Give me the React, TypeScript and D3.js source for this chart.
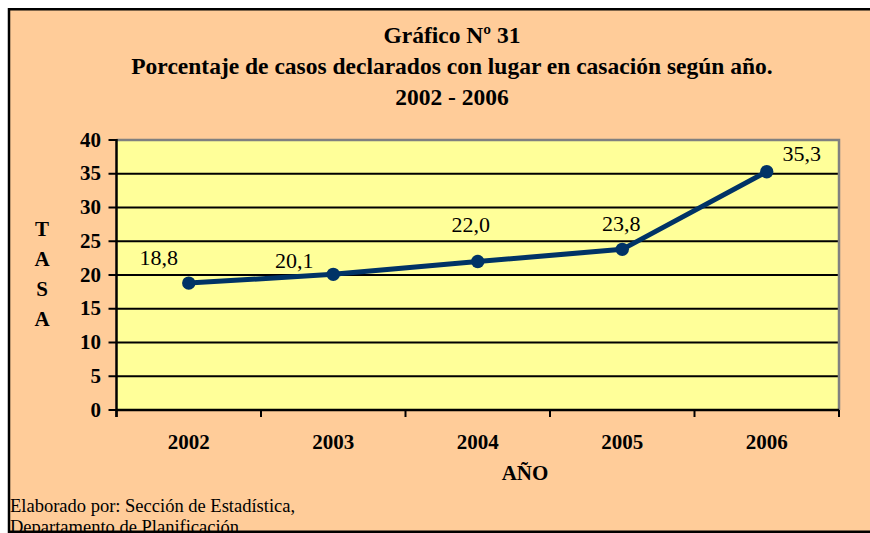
import React from 'react';
import * as d3 from 'd3';

// Data
const years = ['2002', '2003', '2004', '2005', '2006'];
const rates = [18.8, 20.1, 22.0, 23.8, 35.3];
const yTicks = [0, 5, 10, 15, 20, 25, 30, 35, 40];
const titleLines = [
  'Gráfico Nº 31',
  'Porcentaje de casos declarados con lugar en casación según año.',
  '2002 - 2006',
];
const yAxisLetters = ['T', 'A', 'S', 'A'];
const footerLines = ['Elaborado por: Sección de Estadística,', 'Departamento de Planificación'];

// hand-placed label nudges (dx, dy from the point), like the original
const labelNudge = [[-30, -18], [-39, -6], [-7, -30], [-1, -18], [35, -11]];

const W = 870;
const H = 533;
const plot = { left: 116.5, right: 839, top: 140, bottom: 410 };
const FONT = '"Liberation Serif", "Times New Roman", serif';

const esLocale = d3.formatLocale({ decimal: ',', thousands: '.', grouping: [3], currency: ['', ''] });
const fmt = esLocale.format('.1f');

const App = () => {
  const x = d3.scaleBand().domain(years).range([plot.left, plot.right]).padding(0);
  const y = d3.scaleLinear().domain([0, 40]).range([plot.bottom, plot.top]);

  const line = d3.line<number>()
    .x((d, i) => x(years[i])! + x.bandwidth() / 2)
    .y(d => y(d));

  const bandEdges = years.map(yr => x(yr)!).concat([plot.right]);

  return (
    <svg width={W} height={H} style={{ position: 'absolute', left: 0, top: 0, fontFamily: FONT }}>
      <rect x={0} y={0} width={W} height={H} fill="#ffffff" />
      {/* outer frame fill */}
      <rect x={9} y={9.25} width={900} height={522.5} fill="#FFCC99" />

      {/* title */}
      {titleLines.map((t, i) => (
        <text key={i} x={452} y={43 + i * 31} textAnchor="middle" fontSize={23.5} fontWeight="bold">{t}</text>
      ))}

      {/* plot area */}
      <rect x={plot.left} y={plot.top} width={plot.right - plot.left} height={plot.bottom - plot.top} fill="#FFFF99" />

      {/* gridlines */}
      {yTicks.filter(t => t > 0 && t < 40).map(t => (
        <line key={t} x1={plot.left} x2={plot.right} y1={y(t)} y2={y(t)} stroke="#000" strokeWidth={2} />
      ))}
      {/* gray border top/right */}
      <path d={`M${plot.left},${plot.top}H${plot.right}V${plot.bottom}`} fill="none" stroke="#808080" strokeWidth={2.5} />

      {/* y axis */}
      <line x1={plot.left} x2={plot.left} y1={plot.top - 1} y2={plot.bottom + 7} stroke="#000" strokeWidth={2.5} />
      {yTicks.map(t => (
        <g key={t}>
          <line x1={plot.left - 8} x2={plot.left} y1={y(t)} y2={y(t)} stroke="#000" strokeWidth={2} />
          <text x={101} y={y(t) + 6.5} textAnchor="end" fontSize={21} fontWeight="bold">{t}</text>
        </g>
      ))}

      {/* x axis */}
      <line x1={plot.left} x2={plot.right} y1={plot.bottom} y2={plot.bottom} stroke="#000" strokeWidth={2.5} />
      {bandEdges.map((bx, i) => (
        <line key={i} x1={bx} x2={bx} y1={plot.bottom} y2={plot.bottom + 7} stroke="#000" strokeWidth={2} />
      ))}
      {years.map(yr => (
        <text key={yr} x={x(yr)! + x.bandwidth() / 2} y={449} textAnchor="middle" fontSize={21} fontWeight="bold">{yr}</text>
      ))}

      {/* axis titles */}
      <text x={525} y={480} textAnchor="middle" fontSize={21} fontWeight="bold">AÑO</text>
      {yAxisLetters.map((l, i) => (
        <text key={i} x={42} y={236 + i * 30} textAnchor="middle" fontSize={21} fontWeight="bold">{l}</text>
      ))}

      {/* series */}
      <path d={line(rates)!} fill="none" stroke="#003366" strokeWidth={5} strokeLinejoin="round" />
      {rates.map((v, i) => {
        const cx = x(years[i])! + x.bandwidth() / 2;
        const cy = y(v);
        return (
          <g key={i}>
            <circle cx={cx} cy={cy} r={6.7} fill="#003366" />
            <text x={cx + labelNudge[i][0]} y={cy + labelNudge[i][1]} textAnchor="middle" fontSize={22}>{fmt(v)}</text>
          </g>
        );
      })}

      {/* footer */}
      {footerLines.map((t, i) => (
        <text key={i} x={10} y={512 + i * 21} fontSize={18.5}>{t}</text>
      ))}

      {/* outer frame stroke on top */}
      <rect x={9} y={9.25} width={900} height={522.5} fill="none" stroke="#000" strokeWidth={2.5} />
    </svg>
  );
};

export default App;
